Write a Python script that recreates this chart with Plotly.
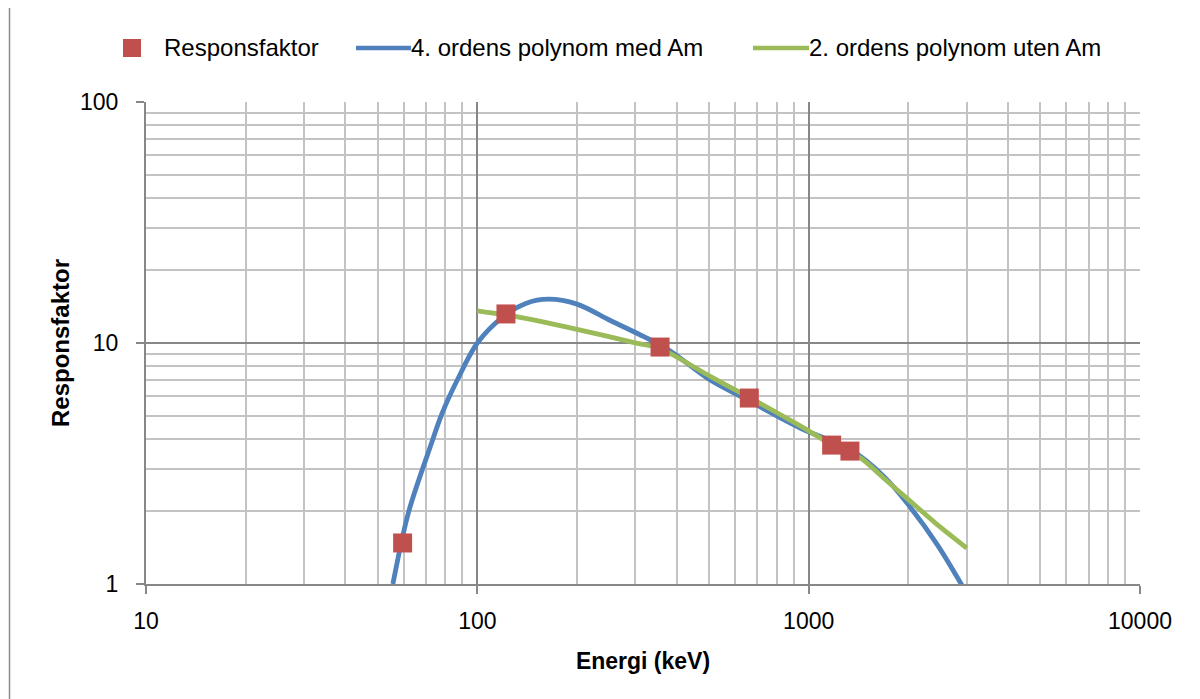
import plotly.graph_objects as go

# Measured response factors
marker_E = [59.5, 122, 356, 662, 1173, 1332]
marker_R = [1.48, 13.2, 9.62, 5.91, 3.77, 3.56]

# 4th order polynomial (with Am)
blue_E = [55.6, 61.9, 72.1, 78.3, 87.0, 100, 120, 140, 164, 200, 252, 333, 383, 506, 662, 946, 1339, 1689, 2000, 2449, 2950]
blue_R = [1.0, 1.97, 3.71, 5.11, 7.02, 10.0, 12.9, 14.6, 15.2, 14.5, 12.4, 10.3, 9.25, 7.0, 5.75, 4.43, 3.60, 2.79, 2.13, 1.45, 0.95]

# 2nd order polynomial (without Am)
green_E = [100, 130, 200, 304, 356, 506, 662, 946, 1173, 1435, 1689, 2000, 2449, 3000]
green_R = [13.6, 12.9, 11.4, 9.97, 9.5, 7.25, 5.95, 4.52, 3.79, 3.33, 2.74, 2.24, 1.76, 1.41]

legend_names = ["Responsfaktor", "4. ordens polynom med Am", "2. ordens polynom uten Am"]

x_ticks = [10, 100, 1000, 10000]
x_ticktext = ["10", "100", "1000", "10000"]
y_ticks = [1, 10, 100]
y_ticktext = ["1", "10", "100"]
x_minor = [m * d for d in (10, 100, 1000) for m in range(2, 10)]
y_minor = [m * d for d in (1, 10) for m in range(2, 10)]

FONT = "Liberation Sans, Arial, sans-serif"
MAJOR = "#878787"
MINOR = "#C3C3C3"
RED, BLUE, GREEN = "#C0504D", "#4F81BD", "#9BBB59"

W, H = 1200, 699
OFF = 8  # page body margin offset
L, R, T, B = 138, 68, 94, 123
PW, PH = W - L - R, H - T - B


def px(x):
    return (x - OFF - L) / PW


def py(y):
    return (H - B - (y - OFF)) / PH


fig = go.Figure()
fig.add_trace(go.Scatter(
    x=blue_E, y=blue_R, mode="lines", name=legend_names[1],
    line=dict(color=BLUE, width=4.8, shape="spline", smoothing=0.9)))
fig.add_trace(go.Scatter(
    x=green_E, y=green_R, mode="lines", name=legend_names[2],
    line=dict(color=GREEN, width=4.8, shape="spline", smoothing=0.7)))
fig.add_trace(go.Scatter(
    x=marker_E, y=marker_R, mode="markers", name=legend_names[0],
    marker=dict(symbol="square", size=19, color=RED, line=dict(width=0))))

fig.update_layout(
    width=W, height=H,
    margin=dict(l=L, r=R, t=T, b=B, autoexpand=False),
    paper_bgcolor="white", plot_bgcolor="white",
    font=dict(family=FONT, size=23, color="black"),
    showlegend=False,
    xaxis=dict(
        type="log", range=[1, 4], tickvals=x_ticks, ticktext=x_ticktext,
        showgrid=True, gridcolor=MAJOR, gridwidth=1.5,
        ticks="outside", ticklen=8, tickcolor=MAJOR, tickwidth=1.5,
        ticklabelstandoff=7,
        showline=True, linecolor=MAJOR, linewidth=2,
        minor=dict(tickvals=x_minor, showgrid=True, gridcolor=MINOR, gridwidth=1.5, ticks=""),
        title=dict(text="<b>Energi (keV)</b>", font=dict(size=23), standoff=20),
        zeroline=False,
    ),
    yaxis=dict(
        type="log", range=[0, 2], tickvals=y_ticks, ticktext=y_ticktext,
        showgrid=True, gridcolor=MAJOR, gridwidth=1.5,
        ticks="outside", ticklen=8, tickcolor=MAJOR, tickwidth=1.5,
        ticklabelstandoff=13,
        showline=True, linecolor=MAJOR, linewidth=2,
        minor=dict(tickvals=y_minor, showgrid=True, gridcolor=MINOR, gridwidth=1.5, ticks=""),
        title=dict(text="<b>Responsfaktor</b>", font=dict(size=24), standoff=4),
        zeroline=False,
    ),
)

# Custom legend row (as in the original chart)
ly = py(48)
fig.add_shape(type="rect", xref="paper", yref="paper",
              x0=px(123), x1=px(141), y0=py(57), y1=py(39),
              fillcolor=RED, line=dict(width=0))
fig.add_shape(type="line", xref="paper", yref="paper",
              x0=px(356), x1=px(411), y0=ly, y1=ly,
              line=dict(color=BLUE, width=4.5))
fig.add_shape(type="line", xref="paper", yref="paper",
              x0=px(753), x1=px(809), y0=ly, y1=ly,
              line=dict(color=GREEN, width=4.5))
for name, xl in zip(legend_names, (162, 409, 807)):
    fig.add_annotation(xref="paper", yref="paper", x=px(xl), y=ly,
                       xanchor="left", yanchor="middle", showarrow=False,
                       text=name, font=dict(size=24, color="black"))

# Outer chart border (left edge visible)
fig.add_shape(type="line", xref="paper", yref="paper",
              x0=px(9.5), x1=px(9.5), y0=py(OFF), y1=py(H),
              line=dict(color="#8C8C8C", width=1.5))

fig.write_html("out.html")
